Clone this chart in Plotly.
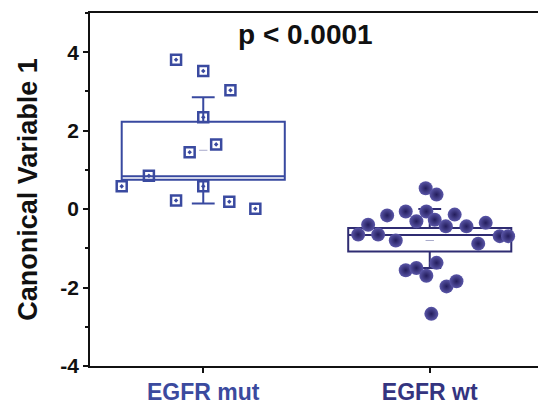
import plotly.graph_objects as go

# ---------------- data ----------------
categories = ["EGFR mut", "EGFR wt"]
cat_pos = [1, 2]
label_colors = ["#3B4A9E", "#34347F"]

mut_values = [3.81, 3.52, 3.03, 2.34, 1.65, 1.45, 0.85, 0.58, 0.58, 0.22, 0.19, 0.01]
mut_jitter = [-0.12, 0.0, 0.12, 0.0, 0.057, -0.06, -0.24, -0.36, 0.0, -0.12, 0.115, 0.23]

wt_values = [0.53, 0.37, -0.16, -0.06, -0.06, -0.31, -0.27, -0.14, -0.44, -0.44,
             -0.35, -0.40, -0.65, -0.65, -0.80, -0.69, -0.69, -0.88, -1.37, -1.56,
             -1.50, -1.70, -1.97, -1.84, -2.67]
wt_jitter = [-0.018, 0.03, -0.188, -0.106, -0.015, -0.059, 0.022, 0.110, 0.071, 0.162,
             0.247, -0.272, -0.316, -0.228, -0.150, 0.309, 0.346, 0.214, 0.03, -0.106,
             -0.059, -0.015, 0.074, 0.118, 0.007]

q1 = [0.75, -1.08]
median = [0.84, -0.66]
q3 = [2.23, -0.48]
lower_whisker = [0.14, -1.50]
upper_whisker = [2.85, 0.00]
means = [1.50, -0.80]

y_ticks = [-4, -2, 0, 2, 4]
y_ticktext = ["-4", "-2", "0", "2", "4"]
y_title = "Canonical Variable 1"
p_text = "p < 0.0001"

box_colors = ["#3849A0", "#2F2C72"]

# ---------------- figure ----------------
fig = go.Figure()

for i in range(2):
    fig.add_trace(go.Box(
        x=[cat_pos[i]], q1=[q1[i]], median=[median[i]], q3=[q3[i]],
        lowerfence=[lower_whisker[i]], upperfence=[upper_whisker[i]],
        width=0.72, whiskerwidth=0.14,
        line=dict(color=box_colors[i], width=2),
        fillcolor="rgba(255,255,255,0)",
        boxpoints=False, hoverinfo="skip",
    ))

fig.add_trace(go.Scatter(
    x=cat_pos, y=means, mode="markers",
    marker=dict(symbol="line-ew", size=6, line=dict(color="#A8AACB", width=1)),
    hoverinfo="skip",
))

fig.add_trace(go.Scatter(
    x=[cat_pos[0] + d for d in mut_jitter], y=mut_values, mode="markers",
    marker=dict(symbol="square-open-dot", size=10, color="#3A4AA0",
                line=dict(color="#3A4AA0", width=2.5)),
))

fig.add_trace(go.Scatter(
    x=[cat_pos[1] + d for d in wt_jitter], y=wt_values, mode="markers",
    marker=dict(symbol="circle", size=14, color="#5a56a8",
                gradient=dict(type="radial", color="#231d5c"),
                line=dict(width=0)),
))

fig.add_annotation(
    x=1.45, y=4.45, xref="x", yref="y", text=p_text, showarrow=False,
    font=dict(family="Liberation Sans, Arial", size=28, color="#111111", weight="bold"),
    xanchor="center", yanchor="middle",
)

ticktext = [f'<span style="color:{c}">{t}</span>' for t, c in zip(categories, label_colors)]

fig.update_layout(
    width=546, height=405,
    margin=dict(l=82, r=11, t=5, b=47),
    paper_bgcolor="white", plot_bgcolor="white",
    showlegend=False,
    font=dict(family="Liberation Sans, Arial", color="#111111"),
    xaxis=dict(
        range=[0.5, 2.5], tickvals=cat_pos, ticktext=ticktext, automargin=False,
        showline=True, linecolor="#111111", linewidth=1.5, mirror=True,
        ticks="outside", ticklen=5, tickwidth=1.5, tickcolor="#111111",
        showgrid=False, zeroline=False,
        tickfont=dict(size=23, weight="bold"),
    ),
    yaxis=dict(
        range=[-4, 5], tickvals=y_ticks, ticktext=y_ticktext, automargin=False,
        showline=True, linecolor="#111111", linewidth=1.8, mirror=True,
        ticks="outside", ticklen=5, tickwidth=1.5, tickcolor="#111111",
        minor=dict(dtick=1, ticks="outside", ticklen=3, tickwidth=1.5, tickcolor="#111111"),
        showgrid=False, zeroline=False,
        tickfont=dict(size=21, weight="bold"),
        title=dict(text=y_title, font=dict(size=27, weight="bold"), standoff=15),
    ),
)

fig.write_html("out.html")
